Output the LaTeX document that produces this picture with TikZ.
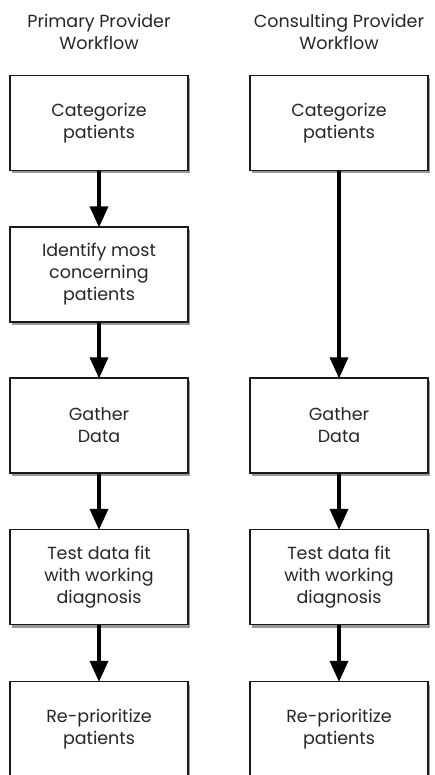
\documentclass[tikz,border=0pt]{standalone}
\usepackage{fontspec}
\setmainfont{Poppins}
\usetikzlibrary{arrows.meta,shadows,positioning}
\begin{document}
\begin{tikzpicture}[x=1pt,y=1pt,
  box/.style={draw=black!90, line width=1.2pt, fill=white, minimum width=178pt, minimum height=95pt,
    align=center, font=\fontsize{17.5}{22}\selectfont, text=black!85,
    drop shadow={shadow xshift=2pt, shadow yshift=-3pt, opacity=0.4, fill=black}},
  title/.style={align=center, font=\fontsize{17.5}{22}\selectfont, text=black!85},
  flow/.style={line width=3.5pt, -{Triangle[length=21pt,width=18pt]}, shorten >=-1pt}]
\useasboundingbox (0,0) rectangle (434,-775);
\node[title] (t1) at (99,-32) {Primary Provider\\Workflow};
\node[title] (t2) at (339,-32) {Consulting Provider\\Workflow};
\node[box] (a1) at (99,-123) {Categorize\\patients};
\node[box] (a2) at (99,-274.5) {Identify most\\concerning\\patients};
\node[box] (a3) at (99,-425.5) {Gather\\Data};
\node[box] (a4) at (99,-577) {Test data fit\\with working\\diagnosis};
\node[box] (a5) at (99,-729) {Re-prioritize\\patients};
\node[box] (b1) at (339,-123) {Categorize\\patients};
\node[box] (b3) at (339,-425.5) {Gather\\Data};
\node[box] (b4) at (339,-577) {Test data fit\\with working\\diagnosis};
\node[box] (b5) at (339,-729) {Re-prioritize\\patients};
\draw[flow] (a1) -- (a2);
\draw[flow] (a2) -- (a3);
\draw[flow] (a3) -- (a4);
\draw[flow] (a4) -- (a5);
\draw[flow] (b1) -- (b3);
\draw[flow] (b3) -- (b4);
\draw[flow] (b4) -- (b5);
\end{tikzpicture}
\end{document}
